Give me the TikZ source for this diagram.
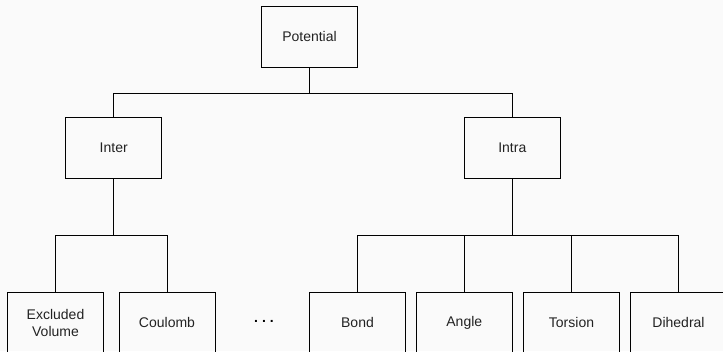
\documentclass[tikz,border=0pt]{standalone}
\usepackage{fontspec}
\setmainfont{Liberation Sans}
\definecolor{bgcol}{HTML}{FAFAFA}
\definecolor{txtcol}{HTML}{222222}

\tikzset{
  box/.style={rectangle, draw=black, line width=0.75pt, minimum width=72pt, minimum height=45.75pt, inner sep=0pt, align=center, text=txtcol, font=\fontsize{10.5}{12.75}\selectfont},
  link/.style={draw=black, line width=0.75pt}
}

\begin{document}
\begin{tikzpicture}[x=0.75pt, y=-0.75pt]
\useasboundingbox (0,0) rectangle (723,351);
\fill[bgcol] (0,0) rectangle (723,351);

\node[box] (pot) at (309.5,36.5) {Potential};

\node[box] (inter) at (113.7,147.7) {Inter};
\node[box] (intra) at (512.3,147.7) {Intra};

\node[box] (excl) at (55.5,322.8) {Excluded\\Volume};
\node[box] (coul) at (167,322.8) {Coulomb};
\node[inner sep=0pt, text=black, font=\fontsize{10.5}{12.75}\selectfont\bfseries] (more) at (264,321) {.\kern3pt.\kern3pt.};
\node[box] (bond) at (357.5,322.8) {Bond};
\node[box] (angle) at (464.3,322.8) {Angle};
\node[box] (tors) at (571.5,322.8) {Torsion};
\node[box] (dihe) at (678.5,322.8) {Dihedral};

\draw[link] (pot.south) -- ++(0,25.5) -| (inter.north);
\draw[link] (pot.south) -- ++(0,25.5) -| (intra.north);

\draw[link] (inter.south) -- ++(0,57) -| (excl.north);
\draw[link] (inter.south) -- ++(0,57) -| (coul.north);

\draw[link] (intra.south) -- ++(0,57) -| (bond.north);
\draw[link] (intra.south) -- ++(0,57) -| (angle.north);
\draw[link] (intra.south) -- ++(0,57) -| (tors.north);
\draw[link] (intra.south) -- ++(0,57) -| (dihe.north);
\end{tikzpicture}
\end{document}
